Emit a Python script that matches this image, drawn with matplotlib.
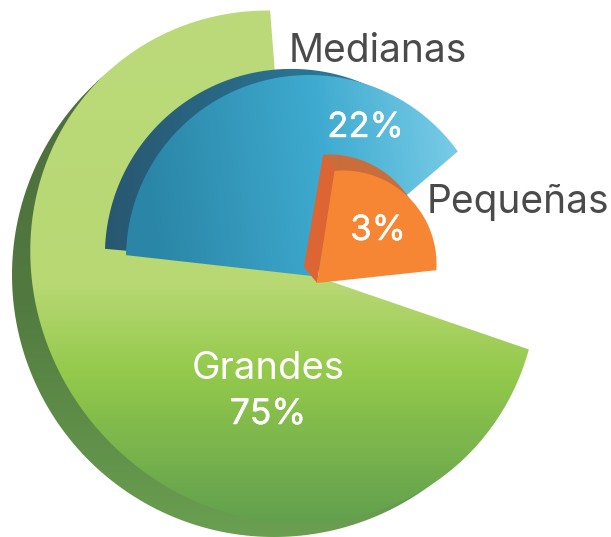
import numpy as np
import matplotlib
matplotlib.use('Agg')
import matplotlib.pyplot as plt
import matplotlib.patheffects as pe
from matplotlib.path import Path
from matplotlib.patches import PathPatch
from matplotlib.colors import LinearSegmentedColormap

# Chart values
categories = ['Grandes', 'Medianas', 'Pequeñas']
shares = [75, 22, 3]

# Slice geometry in pixels: centre, (semi axis a, semi axis b, tilt), start/end angle, apex.
# The slices are not proportional in the original, so they are read off the picture.
GEOMETRY = {
    'Grandes': {'front': ((284, 267), (263, 247, 130), 93.1, 341.4, (290, 267.5)),
                'back': ((274, 275), (262, 262, 0), 100, 330, (286, 280))},
    'Medianas': {'front': ((309, 258), (183, 183, 0), 35.6, 179.1, (312, 276)),
                 'back': ((291.3, 255.3), (186.4, 186.4, 0), 66, 178, (304, 267))},
    'Pequeñas': {'front': ((343, 264), (93.5, 93.5, 0), -3.8, 95.2, (317, 283)),
                 'back': ((329, 250), (95.5, 95.5, 0), 31, 93.4, (304, 267))},
}

FRONT_RAMPS = {
    'Grandes': ((0, 1), [(10, '#bcda7a'), (285, '#b7d873'), (375, '#93c94b'), (530, '#5f9e4e')]),
    'Medianas': ((1, -0.12), [(120, '#2a85a6'), (300, '#3eaacf'), (460, '#82d1eb')]),
    'Pequeñas': ((0, 1), [(150, '#f68634'), (290, '#f68634')]),
}
BACK_RAMPS = {
    'Grandes': ((0, 1), [(60, '#4c6c3d'), (300, '#527a40'), (537, '#6a9f50')]),
    'Medianas': ((1, 0), [(100, '#285670'), (360, '#2a7c9c')]),
    'Pequeñas': ((1, 0), [(320, '#cc6c3a'), (410, '#c7703a')]),
}
SIDE_COLOR = '#dd6533'

LABEL_FONT = ['Inter', 'DejaVu Sans']


def arc_points(center, axes, t1, t2):
    a, b, tilt = axes
    t = np.radians(np.linspace(t1, t2, 200))
    rot = np.radians(tilt)
    # radius of a tilted ellipse in the direction t
    r = a * b / np.hypot(b * np.cos(t - rot), a * np.sin(t - rot))
    return np.column_stack([center[0] + r * np.cos(t), center[1] - r * np.sin(t)])


def slice_path(center, axes, t1, t2, apex):
    pts = np.vstack([arc_points(center, axes, t1, t2), [apex], [apex]])
    codes = [Path.MOVETO] + [Path.LINETO] * (len(pts) - 2) + [Path.CLOSEPOLY]
    return Path(pts, codes)


def fill_gradient(ax, path, ramp, zorder):
    """Paint a linear colour ramp clipped to a slice outline."""
    (dx, dy), stops = ramp
    norm = np.hypot(dx, dy)
    xx, yy = np.meshgrid(np.arange(611) + 0.5, np.arange(537) + 0.5)
    pos = (xx * dx + yy * dy) / norm
    lo, hi = stops[0][0], stops[-1][0]
    cmap = LinearSegmentedColormap.from_list(
        'ramp', [((p - lo) / (hi - lo), c) for p, c in stops])
    im = ax.imshow(np.clip((pos - lo) / (hi - lo), 0, 1), cmap=cmap, vmin=0, vmax=1,
                   extent=(0, 611, 537, 0), aspect='auto', zorder=zorder,
                   interpolation='bilinear')
    patch = PathPatch(path, facecolor='none', edgecolor='none', transform=ax.transData)
    ax.add_patch(patch)
    im.set_clip_path(patch)


fig = plt.figure(figsize=(6.11, 5.37), dpi=100)
ax = fig.add_axes([0, 0, 1, 1])

z = 1
for name in categories:
    back = GEOMETRY[name]['back']
    front = GEOMETRY[name]['front']
    fill_gradient(ax, slice_path(*back), BACK_RAMPS[name], z)
    if name == 'Pequeñas':
        # side face between the back corner and the front corner
        back_top = arc_points(back[0], back[1], back[3], back[3])[0]
        front_top = arc_points(front[0], front[1], front[3], front[3])[0]
        side = np.array([back_top, front_top, front[4], back[4]])
        ax.fill(side[:, 0], side[:, 1], color=SIDE_COLOR, lw=0, zorder=z + 0.5)
    fill_gradient(ax, slice_path(*front), FRONT_RAMPS[name], z + 1)
    z += 2

thick = [pe.withStroke(linewidth=0.3, foreground='white')]
text_style = dict(ha='center', va='baseline', family=LABEL_FONT, zorder=10)
ax.text(377.5, 62, categories[1], fontsize=28, color='#4a4a4a', **text_style)
ax.text(517.5, 213, categories[2], fontsize=28, color='#4a4a4a', **text_style)
ax.text(268, 379, categories[0], fontsize=27.5, color='white', **text_style)
ax.text(268, 424, f'{shares[0]}%', fontsize=25.5, color='white', path_effects=thick, **text_style)
ax.text(365.5, 137, f'{shares[1]}%', fontsize=25, color='white', path_effects=thick, **text_style)
ax.text(378, 240, f'{shares[2]}%', fontsize=25, color='white', path_effects=thick, **text_style)

ax.set_xlim(0, 611)
ax.set_ylim(537, 0)
ax.axis('off')
fig.savefig('out.png', dpi=100, facecolor='white')
